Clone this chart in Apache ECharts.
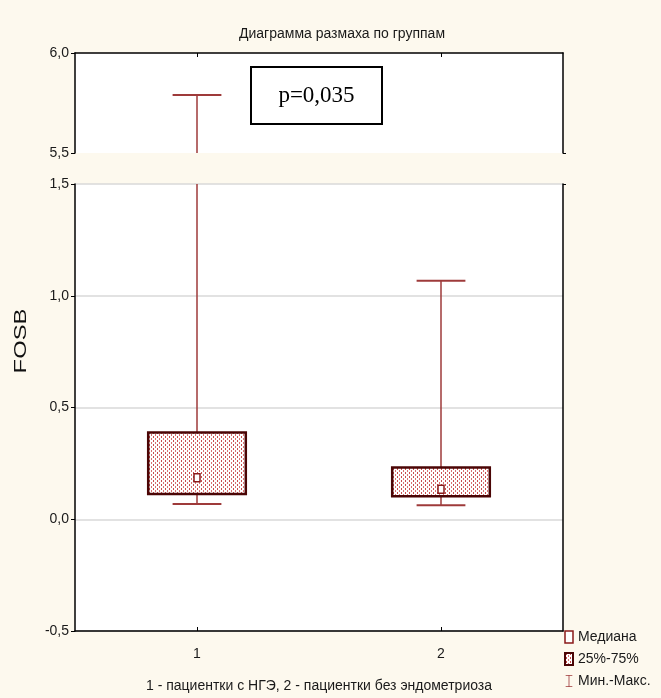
<!DOCTYPE html>
<html>
<head>
<meta charset="utf-8">
<script src="https://cdn.jsdelivr.net/npm/echarts@6/dist/echarts.min.js"></script>
<style>
  html, body { margin: 0; padding: 0; background: #fdf9ee; }
  #chart { width: 661px; height: 698px; }
</style>
</head>
<body>
<div id="chart"></div>
<script>
// Groups and their five-number summaries (FOSB)
const categories = ['1', '2'];
const whiskerMin = [0.068, 0.063];
const quartile1 = [0.113, 0.103];
const medians = [0.186, 0.134];
const quartile3 = [0.388, 0.232];
const whiskerMax = [5.79, 1.067];

// Broken value axis: upper and lower segments
const upperRange = [5.5, 6.0];
const lowerRange = [-0.5, 1.5];
const tickStep = 0.5;

const titleText = 'Диаграмма размаха по группам';
const xName = '1 - пациентки с НГЭ, 2 - пациентки без эндометриоза';
const yName = 'FOSB';
const pText = 'p=0,035';
const legendNames = ['Медиана', '25%-75%', 'Мин.-Макс.'];

const NARROW = "'Liberation Sans Narrow', 'Arial Narrow', 'Liberation Sans', sans-serif";
const WHISKER = '#9e3a3a';
const BOXLINE = '#4a0505';
const MEDIAN = '#8b1a1a';

// dotted fill for the interquartile boxes
const tile = document.createElement('canvas');
tile.width = 4; tile.height = 4;
(function () {
  const c = tile.getContext('2d');
  c.fillStyle = '#ffffff'; c.fillRect(0, 0, 4, 4);
  c.fillStyle = '#c84c4c'; c.fillRect(1, 0, 1, 2);
  c.fillStyle = '#d87070'; c.fillRect(3, 2, 1, 2);
})();
const dotPattern = { image: tile, repeat: 'repeat' };

const fmt = v => v.toFixed(1).replace('.', ',');

const lowerRows = categories.map((c, i) => [i, whiskerMin[i], quartile1[i], medians[i], quartile3[i], whiskerMax[i]]);
const upperRows = categories.map((c, i) => [i, whiskerMax[i]]);

function capLine(x, y, half) {
  return { type: 'line', shape: { x1: x - half, y1: y, x2: x + half, y2: y }, style: { stroke: WHISKER, lineWidth: 2 } };
}

const chart = echarts.init(document.getElementById('chart'), null, { renderer: 'canvas' });

const baseYAxis = {
  type: 'value',
  interval: tickStep,
  axisLine: { show: true, lineStyle: { color: '#000', width: 1.5 } },
  axisTick: { show: true, length: 4, lineStyle: { color: '#000' } },
  axisLabel: { formatter: fmt, fontFamily: NARROW, fontSize: 14, color: '#1a1a1a', margin: 6 },
};

chart.setOption({
  backgroundColor: '#fdf9ee',
  animation: false,
  title: {
    text: titleText, left: 337, top: 22, textAlign: 'center',
    textStyle: { fontFamily: NARROW, fontSize: 14, fontWeight: 'normal', color: '#1a1a1a' }
  },
  grid: [
    { left: 75, width: 488, top: 53, height: 100, show: true, backgroundColor: '#ffffff', borderWidth: 0 },
    { left: 75, width: 488, top: 184, height: 447, show: true, backgroundColor: '#ffffff', borderWidth: 0 }
  ],
  xAxis: [
    {
      gridIndex: 0, type: 'category', data: categories, position: 'top',
      axisLine: { show: true, onZero: false, lineStyle: { color: '#000', width: 1.5 } },
      axisTick: { show: true, inside: true, alignWithLabel: true, length: 4, lineStyle: { color: '#000' } },
      axisLabel: { show: false }, splitLine: { show: false }
    },
    {
      gridIndex: 1, type: 'category', data: categories, position: 'bottom',
      axisLine: { show: true, onZero: false, lineStyle: { color: '#000', width: 1.5 } },
      axisTick: { show: true, inside: true, alignWithLabel: true, length: 4, lineStyle: { color: '#000' } },
      axisLabel: { fontFamily: NARROW, fontSize: 14, color: '#1a1a1a', margin: 16 },
      name: xName, nameLocation: 'middle', nameGap: 48,
      nameTextStyle: { fontFamily: NARROW, fontSize: 14, color: '#1a1a1a' }
    }
  ],
  yAxis: [
    Object.assign({}, baseYAxis, { gridIndex: 0, min: upperRange[0], max: upperRange[1], splitLine: { show: false } }),
    Object.assign({}, baseYAxis, {
      gridIndex: 1, min: lowerRange[0], max: lowerRange[1],
      splitLine: { show: true, lineStyle: { color: '#d9d9d9', width: 1.5 } }
    }),
    {
      gridIndex: 0, type: 'value', position: 'right', min: upperRange[0], max: upperRange[1], interval: tickStep,
      axisLine: { show: true, lineStyle: { color: '#000', width: 1.5 } },
      axisTick: { show: true, length: 3, customValues: [upperRange[0]], lineStyle: { color: '#000' } },
      axisLabel: { show: false }, splitLine: { show: false }
    },
    {
      gridIndex: 1, type: 'value', position: 'right', min: lowerRange[0], max: lowerRange[1], interval: tickStep,
      axisLine: { show: true, lineStyle: { color: '#000', width: 1.5 } },
      axisTick: { show: true, length: 3, customValues: [lowerRange[1]], lineStyle: { color: '#000' } },
      axisLabel: { show: false }, splitLine: { show: false }
    }
  ],
  legend: {
    orient: 'vertical', left: 564, top: 630, padding: 0,
    itemWidth: 8, itemHeight: 12, itemGap: 8,
    textStyle: { fontFamily: NARROW, fontSize: 14, color: '#1a1a1a' },
    selectedMode: false,
    data: [
      { name: legendNames[0], icon: 'rect', itemStyle: { color: '#ffffff', borderColor: MEDIAN, borderWidth: 1.5 } },
      { name: legendNames[1], icon: 'rect', itemStyle: { color: dotPattern, borderColor: BOXLINE, borderWidth: 2 } },
      { name: legendNames[2], icon: 'path://M0,0H10V1.2H5.6V16.8H10V18H0V16.8H4.4V1.2H0Z', itemStyle: { color: WHISKER, borderWidth: 0 } }
    ]
  },
  graphic: [
    {
      type: 'text', x: 21, y: 341, rotation: Math.PI / 2, scaleX: 1.4, scaleY: 1,
      style: { text: yName, fontFamily: "'Liberation Sans', Arial, sans-serif", fontSize: 17, fill: '#111', align: 'center', verticalAlign: 'middle' }
    },
    {
      type: 'group', x: 251, y: 67, children: [
        { type: 'rect', shape: { x: 0, y: 0, width: 131, height: 57 }, style: { fill: '#ffffff', stroke: '#000', lineWidth: 2 } },
        { type: 'text', x: 65.5, y: 29, style: { text: pText, fontFamily: "'Liberation Serif', 'Times New Roman', serif", fontSize: 23, fill: '#000', align: 'center', verticalAlign: 'middle' } }
      ]
    }
  ],
  series: [
    {
      // whiskers, lower segment
      name: legendNames[2], type: 'custom', xAxisIndex: 1, yAxisIndex: 1,
      itemStyle: { color: WHISKER },
      data: lowerRows,
      renderItem(params, api) {
        const i = api.value(0);
        const band = api.size([1, 0])[0];
        const cs = params.coordSys;
        const pMin = api.coord([i, api.value(1)]);
        const pQ1 = api.coord([i, api.value(2)]);
        const pQ3 = api.coord([i, api.value(4)]);
        const pMax = api.coord([i, api.value(5)]);
        const topY = Math.max(pMax[1], cs.y);
        const kids = [
          { type: 'line', shape: { x1: pMin[0], y1: pMin[1], x2: pQ1[0], y2: pQ1[1] }, style: { stroke: WHISKER, lineWidth: 1.5 } },
          { type: 'line', shape: { x1: pQ3[0], y1: pQ3[1], x2: pQ3[0], y2: topY }, style: { stroke: WHISKER, lineWidth: 1.5 } },
          capLine(pMin[0], pMin[1], band * 0.1)
        ];
        if (pMax[1] >= cs.y) kids.push(capLine(pMax[0], pMax[1], band * 0.1));
        return { type: 'group', children: kids };
      }
    },
    {
      // whiskers, upper segment
      name: legendNames[2], type: 'custom', xAxisIndex: 0, yAxisIndex: 0,
      itemStyle: { color: WHISKER },
      data: upperRows,
      renderItem(params, api) {
        const i = api.value(0);
        const v = api.value(1);
        if (v <= upperRange[0]) return null;
        const band = api.size([1, 0])[0];
        const cs = params.coordSys;
        const p = api.coord([i, v]);
        return {
          type: 'group', children: [
            { type: 'line', shape: { x1: p[0], y1: cs.y + cs.height, x2: p[0], y2: p[1] }, style: { stroke: WHISKER, lineWidth: 1.5 } },
            capLine(p[0], p[1], band * 0.1)
          ]
        };
      }
    },
    {
      // interquartile boxes
      name: legendNames[1], type: 'custom', xAxisIndex: 1, yAxisIndex: 1,
      itemStyle: { color: BOXLINE },
      data: lowerRows,
      renderItem(params, api) {
        const i = api.value(0);
        const band = api.size([1, 0])[0];
        const pQ1 = api.coord([i, api.value(2)]);
        const pQ3 = api.coord([i, api.value(4)]);
        const w = band * 0.4;
        return {
          type: 'rect',
          shape: { x: pQ3[0] - w / 2, y: pQ3[1], width: w, height: pQ1[1] - pQ3[1] },
          style: { fill: dotPattern, stroke: BOXLINE, lineWidth: 2.5 }
        };
      }
    },
    {
      // medians
      name: legendNames[0], type: 'custom', xAxisIndex: 1, yAxisIndex: 1,
      itemStyle: { color: MEDIAN },
      data: lowerRows,
      renderItem(params, api) {
        const p = api.coord([api.value(0), api.value(3)]);
        return {
          type: 'rect',
          shape: { x: p[0] - 3, y: p[1] - 4, width: 6, height: 8 },
          style: { fill: '#ffffff', stroke: MEDIAN, lineWidth: 1.5 }
        };
      }
    }
  ]
});
</script>
</body>
</html>
